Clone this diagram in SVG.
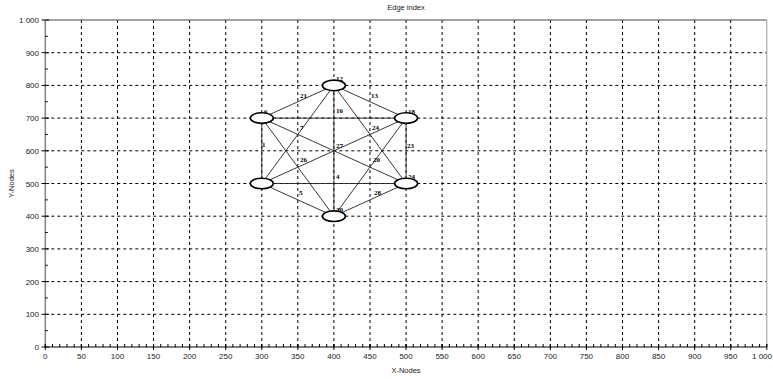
<svg xmlns="http://www.w3.org/2000/svg" width="773" height="379" viewBox="0 0 773 379">
<style>
.grid{stroke:#000;stroke-width:1;stroke-dasharray:3 3;fill:none}
.tick{font-family:"Liberation Sans",Arial,sans-serif;font-size:8px;fill:#222}
.axl{font-family:"Liberation Sans",Arial,sans-serif;font-size:7.5px;fill:#222}
.edge{stroke:#222;stroke-width:0.9;fill:none}
.node ellipse{fill:#fff;stroke:#000;stroke-width:1.6}
.nl{font-family:"Liberation Serif","Times New Roman",serif;font-size:7px;font-weight:bold;fill:#000}
.el{font-family:"Liberation Serif","Times New Roman",serif;font-size:7px;font-weight:bold;fill:#000}
</style>
<rect width="773" height="379" fill="#fff"/>
<text class="axl" x="406" y="10" text-anchor="middle">Edge index</text>
<g id="grid">
<path class="grid" d="M81.4 20V347M117.5 20V347M153.5 20V347M189.6 20V347M225.7 20V347M261.8 20V347M297.8 20V347M333.9 20V347M370 20V347M406.1 20V347M442.1 20V347M478.2 20V347M514.3 20V347M550.4 20V347M586.4 20V347M622.5 20V347M658.6 20V347M694.7 20V347M730.7 20V347"/>
<path class="grid" d="M45.3 314.3H766.8M45.3 281.6H766.8M45.3 248.9H766.8M45.3 216.2H766.8M45.3 183.5H766.8M45.3 150.8H766.8M45.3 118.1H766.8M45.3 85.4H766.8M45.3 52.7H766.8"/>
</g>
<g id="axes">
<line x1="45.3" y1="20" x2="766.8" y2="20" stroke="#444" stroke-width="1.2"/>
<line x1="766.8" y1="20" x2="766.8" y2="347" stroke="#999" stroke-width="1"/>
<line x1="45.3" y1="20" x2="45.3" y2="347" stroke="#888" stroke-width="1.6"/>
<line x1="45.3" y1="347" x2="766.8" y2="347" stroke="#000" stroke-width="1.2"/>
<line x1="44.8" y1="345.5" x2="767.8" y2="345.5" stroke="#000" stroke-width="3" stroke-dasharray="1 6.215"/>
<line x1="44.8" y1="347" x2="767.8" y2="347" stroke="#000" stroke-width="6" stroke-dasharray="1 35.075"/>
<path d="M41.5 20H49M41.5 52.7H49M41.5 85.4H49M41.5 118.1H49M41.5 150.8H49M41.5 183.5H49M41.5 216.2H49M41.5 248.9H49M41.5 281.6H49M41.5 314.3H49M41.5 347H49" stroke="#000" stroke-width="1"/>
<path d="M45.3 36.35h2.5M45.3 69.05h2.5M45.3 101.75h2.5M45.3 134.45h2.5M45.3 167.15h2.5M45.3 199.85h2.5M45.3 232.55h2.5M45.3 265.25h2.5M45.3 297.95h2.5M45.3 330.65h2.5" stroke="#000" stroke-width="1"/>
</g>
<g id="ylabels" class="tick" text-anchor="end">
<text x="39" y="23">1 000</text><text x="39" y="55.7">900</text><text x="39" y="88.4">800</text><text x="39" y="121.1">700</text><text x="39" y="153.8">600</text><text x="39" y="186.5">500</text><text x="39" y="219.2">400</text><text x="39" y="251.9">300</text><text x="39" y="284.6">200</text><text x="39" y="317.3">100</text><text x="39" y="350">0</text>
</g>
<g id="xlabels" class="tick" text-anchor="middle">
<text x="45.3" y="359">0</text><text x="81.4" y="359">50</text><text x="117.5" y="359">100</text><text x="153.5" y="359">150</text><text x="189.6" y="359">200</text><text x="225.7" y="359">250</text><text x="261.8" y="359">300</text><text x="297.8" y="359">350</text><text x="333.9" y="359">400</text><text x="370" y="359">450</text><text x="406.1" y="359">500</text><text x="442.1" y="359">550</text><text x="478.2" y="359">600</text><text x="514.3" y="359">650</text><text x="550.4" y="359">700</text><text x="586.4" y="359">750</text><text x="622.5" y="359">800</text><text x="658.6" y="359">850</text><text x="694.7" y="359">900</text><text x="730.7" y="359">950</text><text x="772" y="359" text-anchor="end">1 000</text>
</g>
<text class="axl" x="406" y="373" text-anchor="middle">X-Nodes</text>
<text class="axl" x="0" y="0" text-anchor="middle" transform="translate(14 183.5) rotate(-90)">Y-Nodes</text>
<g id="connectors">
<path class="edge" d="M261.8 118.1L261.8 183.5M261.8 118.1L333.9 85.4M333.9 85.4L406.1 118.1M261.8 118.1L406.1 118.1M333.9 85.4L333.9 216.2M406.1 118.1L406.1 183.5M261.8 183.5L406.1 183.5M261.8 183.5L333.9 216.2M406.1 183.5L333.9 216.2M261.8 118.1L406.1 183.5M261.8 183.5L406.1 118.1M333.9 85.4L261.8 183.5M333.9 85.4L406.1 183.5M261.8 118.1L333.9 216.2M406.1 118.1L333.9 216.2"/>
</g>
<g id="edge-labels" class="el">
<text x="300" y="98">21</text><text x="371" y="98">13</text><text x="336" y="113">16</text><text x="300" y="130">7</text><text x="372" y="130">24</text><text x="262" y="147">1</text><text x="336" y="148">27</text><text x="407" y="148">23</text><text x="300" y="162">26</text><text x="373" y="162">20</text><text x="336" y="179">4</text><text x="299" y="195">5</text><text x="374" y="195">28</text>
</g>
<g id="n1" class="node"><ellipse cx="261.8" cy="118.1" rx="11.5" ry="5.3"/><text class="nl" x="264" y="114">6</text></g>
<g id="n2" class="node"><ellipse cx="333.9" cy="85.4" rx="11.5" ry="5.3"/><text class="nl" x="336" y="81">12</text></g>
<g id="n3" class="node"><ellipse cx="406.1" cy="118.1" rx="11.5" ry="5.3"/><text class="nl" x="408" y="114">18</text></g>
<g id="n4" class="node"><ellipse cx="406.1" cy="183.5" rx="11.5" ry="5.3"/><text class="nl" x="408" y="179">24</text></g>
<g id="n5" class="node"><ellipse cx="333.9" cy="216.2" rx="11.5" ry="5.3"/><text class="nl" x="336" y="212">30</text></g>
<g id="n6" class="node"><ellipse cx="261.8" cy="183.5" rx="11.5" ry="5.3"/></g>
</svg>
